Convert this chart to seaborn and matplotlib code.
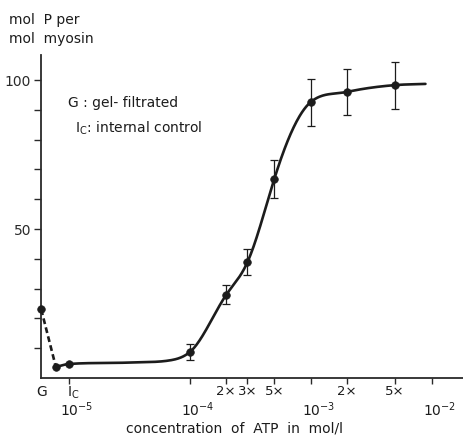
import numpy as np
import pandas as pd
import matplotlib
matplotlib.use("Agg")
import matplotlib.pyplot as plt
import seaborn as sns

# Measured phosphorylation (mol P per mol myosin) vs. ATP concentration
conc = [5.9e-6, 7.8e-6, 1e-5, 1e-4, 2e-4, 3e-4, 5e-4, 1e-3, 2e-3, 5e-3]
mean_p = [23.0, 3.7, 4.7, 8.7, 27.9, 38.9, 66.8, 92.6, 96.0, 98.3]
err_p = [0, 0, 0, 2.7, 3.2, 4.5, 6.4, 7.9, 7.7, 7.9]

# Knots of the hand-drawn smooth curve
curve_conc = [7.8e-6, 1e-5, 3.2e-5, 6.8e-5, 1e-4, 2e-4, 3e-4, 5e-4, 1e-3, 2e-3, 5e-3, 8.9e-3]
curve_p = [3.7, 4.7, 5.2, 5.9, 8.7, 27.9, 38.9, 66.8, 92.6, 96.0, 98.3, 98.7]

major_ticks = [1e-5, 1e-4, 1e-3, 1e-2]
major_labels = ["$10^{-5}$", "$10^{-4}$", "$10^{-3}$", "$10^{-2}$"]
minor_ticks = [2e-4, 3e-4, 5e-4, 2e-3, 5e-3]
minor_labels = ["2×", "3×", "5×", "2×", "5×"]
y_ticks = [10, 20, 30, 40, 50, 60, 70, 80, 90, 100]
y_labels = ["", "", "", "", "50", "", "", "", "", "100"]

INK = "#1c1c1c"

sns.set_theme(style="ticks")
plt.rcParams["font.family"] = ["DejaVu Sans"]
plt.rcParams["text.color"] = INK
plt.rcParams["axes.edgecolor"] = "#2a2a2a"
plt.rcParams["xtick.color"] = "#2a2a2a"
plt.rcParams["ytick.color"] = "#2a2a2a"
plt.rcParams["mathtext.default"] = "regular"


def smooth_curve(x, y, xn, rise=(4, 8)):
    """Cubic Hermite through (x, y).

    Slopes come from a three-point estimate with a Hyman limiter; on the
    rising section (knots rise[0]..rise[1]) the inner slopes are replaced by
    those of a clamped cubic spline so the steep part bends smoothly.
    """
    x = np.asarray(x, float)
    y = np.asarray(y, float)
    h = np.diff(x)
    d = np.diff(y) / h
    m = np.zeros_like(y)
    m[0], m[-1] = d[0], d[-1]
    for k in range(1, len(x) - 1):
        if d[k - 1] * d[k] <= 0:
            m[k] = 0.0
        else:
            s = (d[k - 1] * h[k] + d[k] * h[k - 1]) / (h[k - 1] + h[k])
            m[k] = min(s, 3 * min(d[k - 1], d[k]))

    i0, i1 = rise
    inner = list(range(i0 + 1, i1))
    n = len(inner)
    A = np.zeros((n, n))
    b = np.zeros(n)
    for r, k in enumerate(inner):
        A[r, r] = 2 * (h[k - 1] + h[k])
        b[r] = 3 * (h[k] * d[k - 1] + h[k - 1] * d[k])
        if r > 0:
            A[r, r - 1] = h[k]
        else:
            b[r] -= h[k] * m[k - 1]
        if r < n - 1:
            A[r, r + 1] = h[k - 1]
        else:
            b[r] -= h[k - 1] * m[k + 1]
    m[inner] = np.linalg.solve(A, b)

    idx = np.clip(np.searchsorted(x, xn) - 1, 0, len(x) - 2)
    t = (xn - x[idx]) / h[idx]
    h00 = 2 * t**3 - 3 * t**2 + 1
    h10 = t**3 - 2 * t**2 + t
    h01 = -2 * t**3 + 3 * t**2
    h11 = t**3 - t**2
    return (h00 * y[idx] + h10 * h[idx] * m[idx]
            + h01 * y[idx + 1] + h11 * h[idx] * m[idx + 1])


fig = plt.figure(figsize=(4.64, 4.37), dpi=100)
ax = fig.add_axes([41 / 464, 1 - 378 / 437, 422 / 464, 323 / 437])

df = pd.DataFrame({"conc": conc, "p": mean_p, "err": err_p})

# smooth curve in log-concentration space
lx = np.log10(curve_conc)
xs = np.linspace(lx[0], lx[-1], 500)
curve = pd.DataFrame({"conc": 10 ** xs, "p": smooth_curve(lx, curve_p, xs)})
sns.lineplot(data=curve, x="conc", y="p", ax=ax, color=INK, lw=1.9,
             estimator=None, sort=False)

# dashed link from the gel-filtrated sample
sns.lineplot(data=df.iloc[:2], x="conc", y="p", ax=ax, color=INK, lw=1.9,
             estimator=None, sort=False, linestyle=(0, (2.2, 1.3)))
ax.lines[-1].set_clip_on(False)

# error bars
eb = df[df["err"] > 0]
ax.errorbar(eb["conc"], eb["p"], yerr=eb["err"], fmt="none", ecolor=INK,
            elinewidth=0.9, capsize=3, capthick=0.9, zorder=3)

sns.scatterplot(data=df, x="conc", y="p", ax=ax, color=INK, s=30,
                edgecolor=INK, linewidth=0.5, zorder=4)
ax.collections[-1].set_clip_on(False)

ax.set_xscale("log")
ax.set_xlim(10 ** -5.231, 10 ** -1.74)
ax.set_ylim(0, 108.4)

ax.set_xticks(major_ticks + minor_ticks)
ax.set_xticklabels([])
ax.xaxis.set_minor_locator(matplotlib.ticker.NullLocator())
ax.set_yticks(y_ticks)
ax.set_yticklabels(y_labels, fontsize=10)
ax.tick_params(axis="y", length=5, width=1.0, pad=2)
ax.tick_params(axis="x", length=4, width=1.0)
for s in ("top", "right"):
    ax.spines[s].set_visible(False)
for s in ("left", "bottom"):
    ax.spines[s].set_linewidth(1.3)
ax.set_xlabel("")
ax.set_ylabel("")

# two-row x tick labels
xa = ("data", "axes fraction")
for t, lab in zip(minor_ticks, minor_labels):
    ax.annotate(lab, (t, 0), xycoords=xa, xytext=(0, -10), textcoords="offset points",
                ha="center", va="center", fontsize=9.5)
for t, lab in zip(major_ticks, major_labels):
    ax.annotate(lab, (t, 0), xycoords=xa, xytext=(5.5, -23), textcoords="offset points",
                ha="center", va="center", fontsize=10)
ax.annotate("G", (conc[0], 0), xycoords=xa, xytext=(0, -10), textcoords="offset points",
            ha="center", va="center", fontsize=10)
ax.annotate("$I_C$", (1e-5, 0), xycoords=xa, xytext=(3, -11), textcoords="offset points",
            ha="center", va="center", fontsize=10)

fig.text(235 / 464, 1 - 429 / 437, "concentration  of  ATP  in  mol/l",
         ha="center", va="center", fontsize=10)
fig.text(9 / 464, 1 - 20 / 437, "mol  P per", ha="left", va="center", fontsize=10)
fig.text(9 / 464, 1 - 39 / 437, "mol  myosin", ha="left", va="center", fontsize=10)
fig.text(68 / 464, 1 - 103 / 437, "G : gel- filtrated", ha="left", va="center", fontsize=10)
fig.text(75 / 464, 1 - 128 / 437, "$I_C$: internal control", ha="left", va="center",
         fontsize=10)

fig.savefig("out.png", dpi=100, facecolor="white")
